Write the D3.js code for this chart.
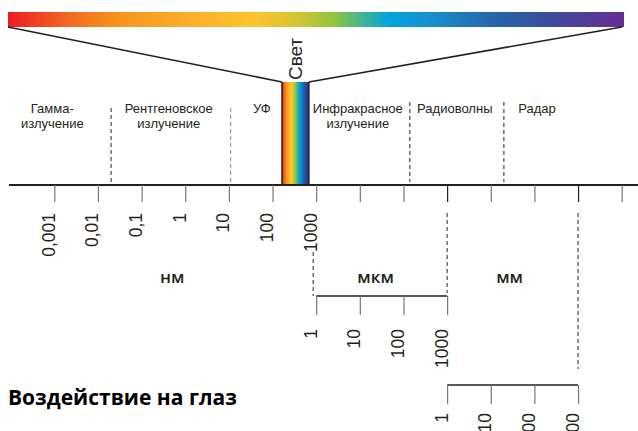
<!DOCTYPE html>
<html>
<head>
<meta charset="utf-8">
<script src="https://cdn.jsdelivr.net/npm/d3@7"></script>
<style>
  html, body { margin: 0; padding: 0; background: #fff; }
  svg { display: block; }
  .lbl { font-family: "Liberation Sans", Arial, sans-serif; fill: #231f20; }
</style>
</head>
<body>
<div id="chart"></div>
<script>
// wavelengths in nm, one tick per decade
var tickExponents = d3.range(-3, 11);
var tickLabels = ["0,001", "0,01", "0,1", "1", "10", "100", "1000"];
var subTickValues = [1, 10, 100, 1000];
var subTickLabels = ["1", "10", "100", "1000"];

var regionNames = [["Гамма-", "излучение"], ["Рентгеновское", "излучение"], ["УФ"],
  ["Инфракрасное", "излучение"], ["Радиоволны"], ["Радар"]];
var regionCenters = [0.0009, 0.42, 57, 9000, 1.5e6, 1.15e8];
var regionBounds = [0.02, 11, 1.4e5, 2e7];
var lightRange = [165, 680];

var units = ["нм", "мкм", "мм"];
var unitCenters = [0.5, 2.3e4, 2.7e7];
var unitFactor = [1, 1e3, 1e6];

var spectrumStops = [
  [0, "#ed1c24"], [0.1, "#f26a22"], [0.18, "#f7941d"], [0.3, "#fbb02a"],
  [0.4, "#fdc52e"], [0.47, "#d2c536"], [0.53, "#8dc63f"], [0.58, "#3ab29a"],
  [0.62, "#00a3dd"], [0.68, "#1892d1"], [0.78, "#2468ad"], [0.87, "#3a4f9e"],
  [1, "#662d91"]
];
var lightStops = [
  [0, "#ed1c24"], [0.15, "#f7941d"], [0.35, "#fdc82f"], [0.5, "#8dc63f"],
  [0.65, "#00a3dd"], [0.82, "#1f5fab"], [1, "#2e2a7a"]
];

(function (d3) {
  'use strict';

  var width = 638, height = 431;
  var axisY = 185;

  var svg = d3.select("#chart").append("svg")
    .attr("width", width)
    .attr("height", height);

  var x = d3.scaleLog().domain([1e-3, 1e10]).range([54.3, 621.7]);

  var defs = svg.append("defs");
  var addGradient = function (id, stops) {
    defs.append("linearGradient")
      .attr("id", id)
      .attr("x1", "0%").attr("x2", "100%").attr("y1", "0%").attr("y2", "0%")
      .selectAll("stop")
      .data(stops)
      .enter().append("stop")
      .attr("offset", function (d) { return d[0]; })
      .attr("stop-color", function (d) { return d[1]; });
  };
  addGradient("spec", spectrumStops);
  addGradient("light", lightStops);

  // full spectrum bar on top
  var barL = 8, barR = 624;
  svg.append("rect")
    .attr("x", barL).attr("y", 12)
    .attr("width", barR - barL).attr("height", 15)
    .attr("fill", "url(#spec)");

  var lx0 = x(lightRange[0]), lx1 = x(lightRange[1]);
  svg.append("line")
    .attr("x1", barL).attr("y1", 27).attr("x2", lx0).attr("y2", 82)
    .attr("stroke", "#231f20").attr("stroke-width", 1.6);
  svg.append("line")
    .attr("x1", barR - 2).attr("y1", 27).attr("x2", lx1).attr("y2", 82)
    .attr("stroke", "#231f20").attr("stroke-width", 1.6);

  // visible light band
  svg.append("rect")
    .attr("x", lx0).attr("y", 82)
    .attr("width", lx1 - lx0).attr("height", axisY - 82)
    .attr("fill", "url(#light)");
  [lx0, lx1].forEach(function (v) {
    svg.append("line")
      .attr("x1", v).attr("x2", v).attr("y1", 82).attr("y2", axisY)
      .attr("stroke", "#231f20").attr("stroke-width", 1.5);
  });

  svg.append("text")
    .attr("class", "lbl")
    .attr("transform", "translate(" + ((lx0 + lx1) / 2 + 7) + ",80) rotate(-90)")
    .attr("font-size", 19)
    .text("Свет");

  // region separators
  svg.selectAll(".sep")
    .data(regionBounds)
    .enter().append("line")
    .attr("class", "sep")
    .attr("x1", function (d) { return x(d); })
    .attr("x2", function (d) { return x(d); })
    .attr("y1", function (d, i) { return i < 2 ? 108 : 102; })
    .attr("y2", axisY - 3)
    .attr("stroke", function (d, i) { return i === 1 ? "#888" : "#231f20"; })
    .attr("stroke-width", 1)
    .attr("stroke-dasharray", "4,3");

  // region names
  var names = svg.selectAll(".region")
    .data(regionNames)
    .enter().append("text")
    .attr("class", "lbl region")
    .attr("font-size", 13)
    .attr("text-anchor", "middle")
    .attr("x", function (d, i) { return x(regionCenters[i]); })
    .attr("y", 113);
  names.selectAll("tspan")
    .data(function (d) { return d; })
    .enter().append("tspan")
    .attr("x", function () { return d3.select(this.parentNode).attr("x"); })
    .attr("dy", function (d, i) { return i ? 15 : 0; })
    .text(function (d) { return d; });

  // main axis
  svg.append("line")
    .attr("x1", 9).attr("x2", width).attr("y1", axisY).attr("y2", axisY)
    .attr("stroke", "#231f20").attr("stroke-width", 1.8);

  var drawAxis = function (y, values, labels, dark, tickLen, labelGap) {
    var g = svg.append("g").attr("transform", "translate(0," + y + ")");
    g.call(d3.axisBottom(x).tickValues(values).tickSize(tickLen).tickSizeOuter(0)
      .tickFormat(function (d, i) { return labels[i] || ""; }));
    // axis line only between first and last tick
    g.select(".domain")
      .attr("d", "M" + x(values[0]) + ",0H" + x(values[values.length - 1]))
      .attr("stroke", "#231f20").attr("stroke-width", 1.4);
    g.selectAll(".tick line")
      .attr("stroke", function (d, i) { return dark(d, i) ? "#231f20" : "#777"; })
      .attr("stroke-width", 1.2);
    g.selectAll(".tick text")
      .attr("class", "lbl")
      .attr("font-family", null)
      .attr("font-size", 17.5)
      .attr("fill", "#231f20")
      .attr("text-anchor", "end")
      .attr("y", null).attr("dy", null)
      .attr("transform", "translate(0," + (tickLen + labelGap) + ") rotate(-90)");
    return g;
  };

  var mainAxis = drawAxis(axisY, tickExponents.map(function (e) { return Math.pow(10, e); }),
    tickLabels, function (d) { return d === 1e6 || d === 1e9; }, 17, 11);
  mainAxis.select(".domain").remove();

  drawAxis(296, subTickValues.map(function (v) { return v * unitFactor[1]; }),
    subTickLabels, function () { return false; }, 19, 14);
  drawAxis(385, subTickValues.map(function (v) { return v * unitFactor[2]; }),
    subTickLabels, function () { return false; }, 19, 9);

  // connectors between the scales
  var connectors = [[1e3, -3, 252, 296], [1e6, 0, 213, 293], [1e9, 0, 213, 369]];
  svg.selectAll(".conn")
    .data(connectors)
    .enter().append("line")
    .attr("class", "conn")
    .attr("x1", function (d) { return x(d[0]) + d[1]; })
    .attr("x2", function (d) { return x(d[0]) + d[1]; })
    .attr("y1", function (d) { return d[2]; })
    .attr("y2", function (d) { return d[3]; })
    .attr("stroke", "#231f20")
    .attr("stroke-width", 1)
    .attr("stroke-dasharray", "4,3");

  // unit names
  svg.selectAll(".unit")
    .data(units)
    .enter().append("text")
    .attr("class", "unit")
    .attr("font-family", "'Open Sans', sans-serif")
    .attr("font-weight", 600)
    .attr("font-size", 17)
    .attr("fill", "#231f20")
    .attr("text-anchor", "middle")
    .attr("x", function (d, i) { return x(unitCenters[i]); })
    .attr("y", 283)
    .text(function (d) { return d; });

  svg.append("text")
    .attr("font-family", "'Open Sans', sans-serif")
    .attr("font-weight", 700)
    .attr("font-size", 21)
    .attr("fill", "#000")
    .attr("x", 8)
    .attr("y", 405)
    .text("Воздействие на глаз");

})(window.d3);
</script>
</body>
</html>
